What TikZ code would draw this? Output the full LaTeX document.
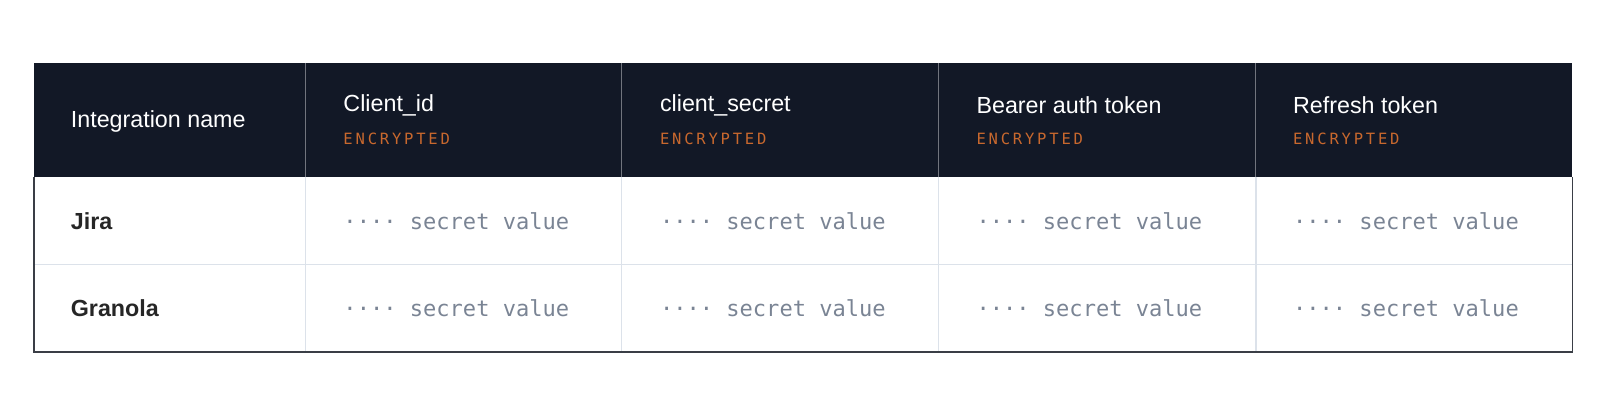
\documentclass[tikz,border=0pt]{standalone}
\usepackage{fontspec}
\setmainfont{Liberation Sans}
\newfontfamily\valfont{DejaVu Sans Mono}
\newfontfamily\tagfont[LetterSpace=18]{DejaVu Sans Mono}
\usetikzlibrary{positioning}
\definecolor{headbg}{HTML}{121826}
\definecolor{tagorange}{HTML}{C8682E}
\definecolor{gridline}{HTML}{DCE2EA}
\definecolor{valgray}{HTML}{7A8494}
\definecolor{rimgray}{HTML}{3A3E46}
\begin{document}
\begin{tikzpicture}[x=0.5pt, y=-0.5pt,
        head_style/.style={anchor=west, text=white, font=\fontsize{11.4}{13}\selectfont, inner sep=0pt},
        tag_style/.style={anchor=north west, text=tagorange, font=\tagfont\fontsize{7.6}{9}\selectfont, inner sep=0pt},
        name_style/.style={anchor=west, text=black!85, font=\bfseries\fontsize{11.4}{13}\selectfont, inner sep=0pt},
        value_style/.style={anchor=west, text=valgray, font=\valfont\fontsize{10.8}{13}\selectfont, inner sep=0pt},
        grid_style/.style={draw=gridline, line width=0.6pt}]
        \useasboundingbox (0,0) rectangle (1567,399.6);

        % header band and grid
        \fill [headbg] (33,62) rectangle (1540,173);
        \draw [grid_style] (33,259) -- (1540,259);
        \foreach \x in {299,609,919,1230}
            {\draw [grid_style] (\x,173) -- (\x,345);
             \draw [draw=white!40!headbg, line width=0.5pt] (\x,62) -- (\x,173);}
        \draw [rimgray, line width=0.8pt] (33,173) -- (33,345) -- (1540,345) -- (1540,173);

        \node [head_style](h0) at (69,119) {Integration name};

        \node [head_style](h1) at (336,103) {Client\_id};
        \node [tag_style](t1) at (336,130) {ENCRYPTED};

        \node [head_style](h2) at (646,103) {client\_secret};
        \node [tag_style](t2) at (646,130) {ENCRYPTED};

        \node [head_style](h3) at (956,103) {Bearer auth token};
        \node [tag_style](t3) at (956,130) {ENCRYPTED};

        \node [head_style](h4) at (1266,103) {Refresh token};
        \node [tag_style](t4) at (1266,130) {ENCRYPTED};

        \node [name_style](jira) at (69,217) {Jira};
        \node [name_style](granola) at (69,302) {Granola};

        \foreach \x in {336,646,956,1266}
            \foreach \y in {217,302}
                \node [value_style] at (\x,\y) {···· secret value};
\end{tikzpicture}
\end{document}
